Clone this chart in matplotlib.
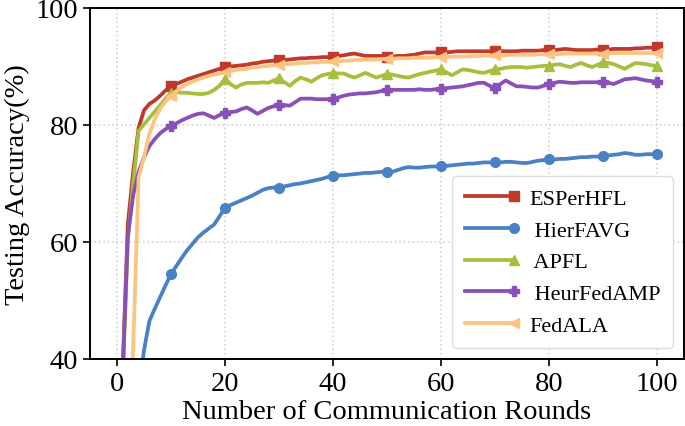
import numpy as np
import matplotlib
matplotlib.use("Agg")
import matplotlib.pyplot as plt
from matplotlib.legend_handler import HandlerLine2D

plt.rcParams['font.family'] = ['Liberation Serif', 'DejaVu Serif']
plt.rcParams['mathtext.fontset'] = 'stix'

# Communication rounds 0..100
rounds = np.arange(101)

esperhfl = [15.0, 37.0, 63.0, 72.0, 79.5, 82.5, 83.6, 84.2, 85.0, 85.9,
            86.6, 87.0, 87.4, 87.8, 88.1, 88.4, 88.7, 89.0, 89.3, 89.6,
            89.9, 90.0, 90.1, 90.2, 90.3, 90.5, 90.6, 90.8, 90.9, 91.0,
            91.1, 91.1, 91.2, 91.3, 91.4, 91.4, 91.5, 91.5, 91.6, 91.6,
            91.7, 91.8, 91.9, 92.1, 92.2, 92.0, 91.8, 91.8, 91.8, 91.8,
            91.7, 91.7, 91.8, 91.8, 91.9, 92.0, 92.2, 92.4, 92.4, 92.4,
            92.5, 92.4, 92.5, 92.6, 92.6, 92.6, 92.6, 92.6, 92.6, 92.6,
            92.6, 92.6, 92.6, 92.6, 92.6, 92.7, 92.7, 92.7, 92.7, 92.8,
            92.9, 92.8, 92.9, 93.0, 92.9, 92.8, 92.8, 92.8, 92.8, 92.9,
            92.9, 92.9, 93.0, 93.0, 93.0, 93.0, 93.1, 93.1, 93.2, 93.2,
            93.3]

hierfavg = [5.0, 10.0, 18.0, 26.0, 34.0, 41.5, 46.5, 48.6, 50.6, 52.6,
            54.5, 55.9, 57.3, 58.6, 59.7, 60.8, 61.6, 62.3, 63.0, 64.4,
            65.8, 66.3, 66.7, 67.1, 67.5, 67.9, 68.4, 68.9, 69.2, 69.3,
            69.3, 69.5, 69.7, 69.9, 70.0, 70.2, 70.4, 70.6, 70.8, 71.1,
            71.3, 71.4, 71.4, 71.5, 71.6, 71.7, 71.8, 71.8, 71.9, 72.0,
            72.0, 72.0, 72.3, 72.6, 72.8, 72.7, 72.7, 72.8, 72.9, 72.9,
            72.9, 73.0, 73.1, 73.2, 73.3, 73.4, 73.4, 73.5, 73.6, 73.6,
            73.6, 73.6, 73.7, 73.7, 73.6, 73.5, 73.5, 73.7, 73.9, 74.0,
            74.1, 74.1, 74.2, 74.2, 74.3, 74.4, 74.5, 74.5, 74.6, 74.6,
            74.7, 74.8, 74.9, 75.0, 75.2, 75.1, 74.9, 74.9, 75.0, 75.0,
            75.0]

apfl = [12.0, 35.0, 60.0, 70.0, 79.0, 80.1, 81.2, 82.3, 83.4, 84.5,
        85.5, 85.6, 85.5, 85.5, 85.4, 85.3, 85.3, 85.5, 86.0, 86.7,
        87.9, 87.0, 86.4, 86.9, 87.2, 87.2, 87.2, 87.3, 87.2, 87.6,
        88.0, 87.3, 86.7, 87.5, 88.1, 87.8, 87.4, 88.0, 88.5, 88.7,
        88.9, 88.8, 88.8, 88.4, 88.1, 88.5, 88.9, 88.5, 88.1, 88.4,
        88.7, 88.6, 88.4, 88.2, 88.1, 88.4, 88.7, 88.9, 89.1, 89.3,
        89.5, 89.0, 88.5, 89.0, 89.5, 89.4, 89.2, 89.0, 88.9, 89.2,
        89.5, 89.6, 89.8, 89.9, 89.9, 89.9, 89.8, 89.9, 90.0, 90.1,
        90.1, 90.3, 90.4, 90.1, 89.9, 90.3, 90.6, 90.2, 89.9, 90.3,
        90.7, 90.6, 90.4, 90.0, 89.6, 90.1, 90.6, 90.5, 90.4, 90.2,
        90.1]

heurfedamp = [10.0, 36.0, 61.0, 68.0, 72.0, 74.5, 76.4, 77.6, 78.6, 79.3,
              79.8, 80.3, 80.8, 81.2, 81.6, 81.9, 82.0, 81.6, 81.2, 81.7,
              82.1, 82.2, 82.3, 82.7, 83.0, 82.5, 81.9, 82.4, 82.9, 83.2,
              83.4, 83.4, 83.3, 83.9, 84.5, 84.5, 84.5, 84.4, 84.4, 84.4,
              84.4, 84.7, 85.0, 85.2, 85.3, 85.4, 85.4, 85.5, 85.6, 85.8,
              86.0, 86.0, 86.0, 86.0, 86.0, 86.0, 86.1, 86.0, 86.0, 86.1,
              86.2, 86.3, 86.4, 86.5, 86.6, 86.8, 87.0, 87.2, 87.2, 86.7,
              86.3, 87.0, 87.6, 87.1, 86.6, 86.6, 86.5, 86.4, 86.4, 86.7,
              87.0, 87.2, 87.4, 87.3, 87.2, 87.2, 87.3, 87.3, 87.3, 87.3,
              87.3, 87.2, 87.0, 87.4, 87.8, 87.9, 88.0, 87.8, 87.6, 87.5,
              87.4]

fedala = [5.0, 10.0, 20.0, 42.0, 71.0, 74.5, 78.5, 81.0, 82.8, 84.0,
          85.0, 85.8, 86.5, 87.0, 87.4, 87.8, 88.1, 88.4, 88.6, 88.8,
          89.0, 89.2, 89.4, 89.5, 89.6, 89.8, 89.9, 90.0, 90.1, 90.2,
          90.3, 90.4, 90.4, 90.5, 90.6, 90.6, 90.7, 90.7, 90.8, 90.8,
          90.9, 90.9, 91.0, 91.0, 91.1, 91.1, 91.2, 91.2, 91.2, 91.3,
          91.3, 91.3, 91.4, 91.4, 91.4, 91.5, 91.5, 91.5, 91.5, 91.6,
          91.6, 91.6, 91.7, 91.7, 91.7, 91.7, 91.8, 91.8, 91.8, 91.9,
          91.9, 91.9, 91.9, 92.0, 92.0, 92.0, 92.0, 92.0, 92.1, 92.1,
          92.1, 92.1, 92.1, 92.2, 92.2, 92.2, 92.2, 92.2, 92.2, 92.2,
          92.2, 92.3, 92.3, 92.3, 92.3, 92.3, 92.3, 92.3, 92.3, 92.3,
          92.3]

labels = ['ESPerHFL', ' HierFAVG', ' APFL', ' HeurFedAMP', 'FedALA']
colors = ['#c0392b', '#4a80c4', '#a6bf3c', '#8a4fb8', '#fdc381']
markers = ['s', 'o', '^', 'P', '<']
series = [esperhfl, hierfavg, apfl, heurfedamp, fedala]

fig = plt.figure(figsize=(6.85, 4.27), dpi=100)
ax = fig.add_axes([0.1314, 0.157, 0.8671, 0.822])

for i in range(len(series)):
    ax.plot(rounds, series[i], color=colors[i], marker=markers[i],
            markevery=10, markersize=7, linewidth=2.7, label=labels[i])

ax.set_ylim(40, 100)
ax.set_xticks([0, 20, 40, 60, 80, 100])
ax.set_yticks([40, 60, 80, 100])
ax.grid(True, linestyle=':', color='#d4d4d4', linewidth=1.2)
ax.tick_params(direction='out', length=5, width=1.2, labelsize=20.5, colors='black')
for s in ax.spines.values():
    s.set_linewidth(1.4)

ax.set_xlabel('Number of Communication Rounds', fontsize=20.5, labelpad=2)
ax.set_ylabel('Testing Accuracy(%)', fontsize=20.5, labelpad=4)


# legend marker at right end of the handle
def _upd(h, o):
    h.update_from(o)
    h.set_markevery([2])


leg = ax.legend(loc='lower right', fontsize=16,
                handler_map={matplotlib.lines.Line2D: HandlerLine2D(update_func=_upd)},
                framealpha=1, edgecolor='#dddddd', fancybox=True,
                labelspacing=0.5, handlelength=2.2, handletextpad=0.7,
                borderpad=0.55)

fig.savefig('out.png', dpi=100)
